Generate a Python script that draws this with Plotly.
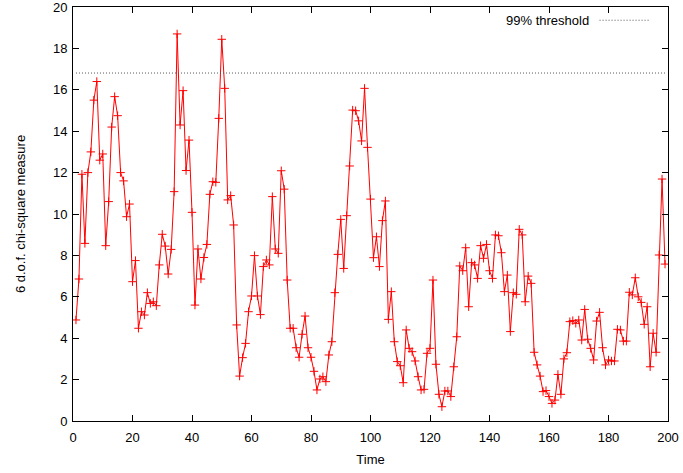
import plotly.graph_objects as go

time = list(range(1, 200))
chi2 = [
    4.88, 6.86, 11.92, 8.58, 12.0, 13.0, 15.5, 16.4, 12.6, 12.9,
    8.47, 10.6, 14.2, 15.67, 14.75, 12.0, 11.6, 9.87, 10.48, 6.73,
    7.75, 4.48, 5.28, 5.12, 6.2, 5.68, 5.76, 5.57, 7.54, 9.02,
    8.45, 7.1, 8.29, 11.08, 18.7, 14.3, 15.96, 12.1, 13.57, 10.08,
    5.6, 8.31, 6.86, 7.9, 8.53, 10.95, 11.56, 11.53, 14.62, 18.44,
    16.07, 10.68, 10.89, 9.47, 4.64, 2.17, 3.06, 3.75, 5.28, 6.04,
    7.99, 6.04, 5.14, 7.46, 7.78, 7.54, 10.84, 8.31, 8.1, 12.09,
    11.2, 6.81, 4.48, 4.48, 3.54, 3.08, 4.19, 5.07, 3.54, 3.08,
    2.4, 1.5, 2.03, 2.14, 1.9, 3.19, 3.83, 6.2, 8.05, 9.74,
    7.37, 9.92, 12.32, 15.02, 14.99, 14.5, 13.53, 16.07, 13.22, 10.72,
    7.89, 8.9, 7.46, 9.68, 10.63, 4.91, 6.25, 3.83, 2.87, 2.67,
    1.85, 4.4, 3.51, 3.35, 2.9, 2.14, 1.5, 1.53, 3.27, 3.51,
    6.81, 2.74, 1.29, 0.69, 1.45, 1.45, 1.18, 2.62, 4.07, 7.49,
    7.26, 8.37, 5.52, 7.65, 7.54, 6.89, 8.47, 7.86, 8.53, 7.26,
    6.89, 8.99, 8.95, 8.13, 6.25, 7.05, 4.32, 6.2, 6.12, 9.26,
    8.99, 5.76, 7.0, 6.65, 3.32, 2.71, 2.17, 1.42, 1.47, 1.18,
    0.85, 1.01, 2.25, 1.29, 3.0, 3.3, 4.8, 4.85, 4.72, 4.88,
    3.91, 5.39, 3.95, 3.51, 2.95, 4.83, 5.25, 3.54, 2.71, 2.95,
    2.9, 2.9, 4.43, 4.4, 3.86, 3.86, 6.22, 6.09, 6.92, 6.0,
    5.73, 4.67, 5.52, 2.62, 4.24, 3.32, 8.02, 11.69, 7.58,
]
threshold_value = 16.81
threshold = [threshold_value] * len(time)

x_ticks = list(range(0, 201, 20))
y_ticks = list(range(0, 21, 2))

font = "Liberation Sans, Arial, Helvetica, sans-serif"
dotted = dict(color="#555555", width=1, dash="1px,2px")

fig = go.Figure()
fig.add_trace(go.Scatter(
    x=time, y=chi2, mode="lines+markers",
    line=dict(color="#ff0000", width=1),
    marker=dict(symbol="cross-thin", size=6, color="#ff0000",
                line=dict(color="#ff0000", width=1)),
    showlegend=False,
))
fig.add_trace(go.Scatter(
    x=time, y=threshold, mode="lines",
    line=dotted,
    showlegend=False,
))

# gnuplot-style key: text right-aligned, sample line to the right
fig.add_annotation(
    xref="paper", yref="paper", x=0.871, y=0.968,
    text="99% threshold", showarrow=False, xanchor="right", yanchor="middle",
    font=dict(family=font, size=13, color="#000000"),
)
fig.add_shape(
    type="line", xref="paper", yref="paper",
    x0=0.885, x1=0.968, y0=0.968, y1=0.968,
    line=dotted,
)

axis_common = dict(
    showline=True, linecolor="#000000", linewidth=1, mirror="allticks",
    ticks="inside", ticklen=6, tickcolor="#000000", tickwidth=1,
    showgrid=False, zeroline=False, automargin=False,
    ticklabeloverflow="allow",
    tickfont=dict(family=font, size=13, color="#000000"),
)

fig.update_layout(
    width=683, height=473,
    margin=dict(l=73, r=15, t=7, b=52),
    paper_bgcolor="#ffffff", plot_bgcolor="#ffffff",
    xaxis=dict(range=[0, 200], tickvals=x_ticks, ticklabelstandoff=4,
               title=dict(text="Time", font=dict(family=font, size=13, color="#000000"), standoff=11),
               **axis_common),
    yaxis=dict(range=[0, 20], tickvals=y_ticks, ticklabelstandoff=2,
               title=dict(text="6 d.o.f. chi-square measure", font=dict(family=font, size=13, color="#000000"), standoff=24),
               **axis_common),
)

fig.write_html("out.html")
